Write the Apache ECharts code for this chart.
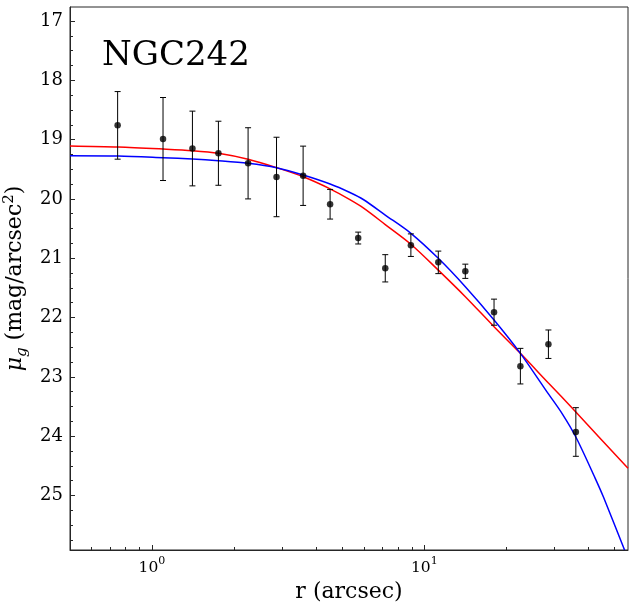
<!DOCTYPE html>
<html>
<head>
<meta charset="utf-8">
<title>NGC242</title>
<script src="https://cdn.jsdelivr.net/npm/echarts@6/dist/echarts.min.js"></script>
<style>
body{margin:0;padding:0;background:#fff;}
#chart{width:634px;height:608px;}
</style>
</head>
<body>
<div id="chart"></div>
<script>
// measured profile (r in arcsec, mu in mag/arcsec^2)
var radius = [0.748, 1.098, 1.408, 1.754, 2.254, 2.867, 3.59, 4.51, 5.72, 7.19, 8.93, 11.26, 14.15, 18.04, 22.54, 28.57, 36.03];
var mu     = [18.76, 18.99, 19.15, 19.23, 19.40, 19.63, 19.61, 20.09, 20.66, 21.17, 20.78, 21.07, 21.22, 21.91, 22.82, 22.45, 23.93];
var muErr  = [0.57, 0.70, 0.63, 0.54, 0.60, 0.67, 0.50, 0.25, 0.10, 0.23, 0.19, 0.19, 0.12, 0.22, 0.30, 0.24, 0.41];

// fit curves
var redR   = [0.5, 0.752, 1.098, 1.408, 1.754, 2.254, 2.867, 3.591, 4.511, 5.33, 5.97, 7.19, 8.93, 11.26, 14.15, 18.04, 22.54, 28.57, 32.0, 36.03, 56];
var redMu  = [19.108, 19.125, 19.159, 19.187, 19.231, 19.332, 19.473, 19.626, 19.83, 20.012, 20.152, 20.432, 20.764, 21.201, 21.649, 22.155, 22.604, 23.105, 23.341, 23.594, 24.543];
var blueR  = [0.5, 0.752, 1.098, 1.408, 1.754, 2.254, 2.867, 3.591, 4.511, 5.33, 5.97, 7.19, 8.93, 11.26, 14.15, 18.04, 22.54, 28.57, 32.08, 36.03, 42.4, 45.5, 54.4];
var blueMu = [19.272, 19.277, 19.305, 19.327, 19.356, 19.40, 19.474, 19.597, 19.749, 19.892, 20.01, 20.272, 20.58, 21.002, 21.481, 22.042, 22.604, 23.288, 23.62, 24.015, 24.707, 25.027, 25.921];

var xMajor = [1, 10];
var xMinor = [0.6, 0.7, 0.8, 0.9, 2, 3, 4, 5, 6, 7, 8, 9, 20, 30, 40, 50];
var yMajor = [17, 18, 19, 20, 21, 22, 23, 24, 25];
var xRange = [0.5, 56];
var yRange = [16.764, 25.92];

var lg = Math.log10;
var yMinor = [];
for (var v = 17.25; v < 26; v += 0.25) { if (v % 1 !== 0) yMinor.push(v); }

function pairs(rs, ms){ return rs.map(function(r, i){ return [lg(r), ms[i]]; }); }

var serif = 'DejaVu Serif';
var ink = '#262626';

var chart = echarts.init(document.getElementById('chart'));
chart.setOption({
	animation:false,
	title:{
		text:'NGC242', left:102, top:39, padding:0,
		textStyle:{fontFamily:serif, fontSize:34, fontWeight:'normal', color:'#000'}
	},
	grid:{left:70, top:7, right:6, bottom:58, show:true, borderColor:ink, borderWidth:1, outerBoundsMode:'none', containLabel:false},
	xAxis:[{
		type:'value', min:lg(xRange[0]), max:lg(xRange[1]),
		axisLine:{onZero:false, lineStyle:{color:ink}},
		axisTick:{inside:true, length:5, customValues:xMajor.map(lg), lineStyle:{color:ink}},
		splitLine:{show:false},
		axisLabel:{
			customValues:xMajor.map(lg), margin:6, color:'#000',
			formatter:function(v){ return '{b|10}{s|' + Math.round(v) + '}'; },
			rich:{
				b:{fontFamily:serif, fontSize:15.5, lineHeight:20, verticalAlign:'bottom', color:'#000'},
				s:{fontFamily:serif, fontSize:11, lineHeight:10, verticalAlign:'top', color:'#000'}
			}
		},
		name:'r (arcsec)', nameLocation:'middle', nameGap:30,
		nameTextStyle:{fontFamily:serif, fontSize:22, color:'#000'}
	},{
		type:'value', position:'bottom', min:lg(xRange[0]), max:lg(xRange[1]),
		axisLine:{show:false, onZero:false},
		axisTick:{inside:true, length:3, customValues:xMinor.map(lg), lineStyle:{color:ink}},
		axisLabel:{show:false}, splitLine:{show:false}
	}],
	yAxis:[{
		type:'value', inverse:true, min:yRange[0], max:yRange[1],
		axisLine:{show:true, onZero:false, lineStyle:{color:ink}},
		axisTick:{show:true, inside:true, length:5, customValues:yMajor, lineStyle:{color:ink}},
		splitLine:{show:false},
		axisLabel:{customValues:yMajor, margin:7, fontFamily:serif, fontSize:18, color:'#000'},
		name:'{i|μ}{sub|g}{n| (mag/arcsec}{sup|2}{n|)}', nameLocation:'middle', nameGap:39, nameRotate:90,
		nameTextStyle:{
			rich:{
				i:{fontFamily:serif, fontStyle:'italic', fontSize:22, lineHeight:28, verticalAlign:'middle', color:'#000'},
				sub:{fontFamily:serif, fontStyle:'italic', fontSize:15, lineHeight:14, verticalAlign:'bottom', color:'#000'},
				n:{fontFamily:serif, fontSize:22, lineHeight:28, verticalAlign:'middle', color:'#000'},
				sup:{fontFamily:serif, fontSize:15, lineHeight:14, verticalAlign:'top', color:'#000'}
			}
		}
	},{
		type:'value', position:'left', inverse:true, min:yRange[0], max:yRange[1],
		axisLine:{show:false, onZero:false},
		axisTick:{show:true, inside:true, length:3, customValues:yMinor, lineStyle:{color:ink}},
		axisLabel:{show:false}, splitLine:{show:false}
	}],
	series:[
		{
			type:'line', data:pairs(redR, redMu), showSymbol:false, smooth:0.3,
			lineStyle:{color:'#ff0000', width:1.5}, z:2
		},
		{
			type:'line', data:pairs(blueR, blueMu), showSymbol:false, smooth:0.3,
			lineStyle:{color:'#0000ff', width:1.5}, z:2
		},
		{
			type:'custom', z:3,
			data:radius.map(function(r, i){ return [lg(r), mu[i] - muErr[i], mu[i] + muErr[i]]; }),
			renderItem:function(params, api){
				var top = api.coord([api.value(0), api.value(1)]);
				var bot = api.coord([api.value(0), api.value(2)]);
				var hw = 3;
				var st = {stroke:'#000', lineWidth:1};
				return {type:'group', children:[
					{type:'line', shape:{x1:top[0], y1:top[1], x2:bot[0], y2:bot[1]}, style:st},
					{type:'line', shape:{x1:top[0]-hw, y1:top[1], x2:top[0]+hw, y2:top[1]}, style:st},
					{type:'line', shape:{x1:bot[0]-hw, y1:bot[1], x2:bot[0]+hw, y2:bot[1]}, style:st}
				]};
			}
		},
		{
			type:'scatter', z:4, symbol:'circle', symbolSize:6.5,
			itemStyle:{color:'#000'},
			data:pairs(radius, mu)
		}
	]
});
</script>
</body>
</html>
